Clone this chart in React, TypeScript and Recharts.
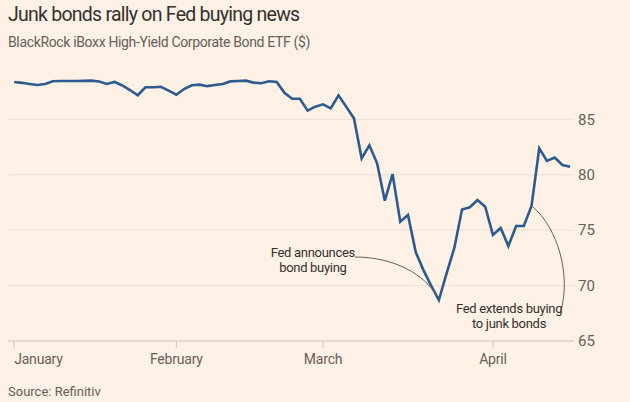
import React from "react";
import {
  LineChart,
  Line,
  XAxis,
  YAxis,
  CartesianGrid,
  ReferenceDot,
} from "recharts";

// HYG daily close, one value per trading day, 2 Jan - 16 Apr 2020
const prices = [
  88.38, 88.3, 88.2, 88.1, 88.2, 88.44, 88.47, 88.47, 88.47, 88.48,
  88.5, 88.42, 88.2, 88.38, 88.06, 87.65, 87.18, 87.9, 87.9, 87.95,
  87.6, 87.23, 87.74, 88.08, 88.14, 88.0, 88.1, 88.2, 88.43, 88.47,
  88.5, 88.32, 88.26, 88.44, 88.38, 87.4, 86.87, 86.87, 85.79, 86.15,
  86.36, 86.0, 87.17, 86.15, 85.1, 81.49, 82.66, 81.04, 77.66, 80.07,
  75.77, 76.37, 73.03, 71.4, 70.0, 68.7, 71.1, 73.4, 76.87, 77.07,
  77.73, 77.12, 74.57, 75.2, 73.57, 75.38, 75.38, 77.18, 82.39, 81.25,
  81.56, 80.88, 80.73,
];

// first trading day of each month (index into prices)
const monthTicks = [0, 21, 40, 62];
const monthLabels = ["January", "February", "March", "April"];
const yTicks = [65, 70, 75, 80, 85];

const bondBuyingDay = 55; // 23 Mar
const junkBuyingDay = 67; // 9 Apr

const rows = prices.map((v, i) => ({ i, v }));

const BG = "#fff1e5";
const TEXT = "#33302e";
const MUTED = "#66605c";
const FONT = "Roboto, 'Noto Sans', sans-serif";

document.body.style.margin = "0";
document.body.style.background = BG;

const MonthTick = (props: any) => {
  const { x, y, payload } = props;
  const idx = monthTicks.indexOf(payload.value);
  return (
    <text
      x={x}
      y={y + 4}
      dy="0.71em"
      textAnchor={idx === 0 ? "start" : "middle"}
      fill={MUTED}
      fontSize={14}
      letterSpacing={-0.2}
      fontFamily={FONT}
    >
      {monthLabels[idx]}
    </text>
  );
};

const PriceTick = (props: any) => {
  const { x, y, payload } = props;
  return (
    <text x={x} y={y} dy="0.35em" textAnchor="start" fill={MUTED} fontSize={15} fontFamily={FONT}>
      {payload.value}
    </text>
  );
};

const noteText = {
  textAnchor: "middle" as const,
  fill: TEXT,
  fontSize: 13,
  letterSpacing: -0.3,
  fontFamily: FONT,
};

const BondNote = (props: any) => {
  const { cx, cy } = props;
  return (
    <g>
      <path
        d={`M${cx - 84},${cy - 43} C${cx - 44},${cy - 43} ${cx - 14},${cy - 25} ${cx - 2},${cy - 4}`}
        fill="none"
        stroke={MUTED}
        strokeWidth={1}
      />
      <text {...noteText} x={cx - 126} y={cy - 43}>Fed announces</text>
      <text {...noteText} x={cx - 126} y={cy - 28}>bond buying</text>
    </g>
  );
};

const JunkNote = (props: any) => {
  const { cx, cy } = props;
  return (
    <g>
      <path
        d={`M${cx + 1.5},${cy + 1} C${cx + 26},${cy + 22} ${cx + 40},${cy + 69} ${cx + 29},${cy + 106}`}
        fill="none"
        stroke={MUTED}
        strokeWidth={1}
      />
      <text {...noteText} x={cx - 22.5} y={cy + 107}>Fed extends buying</text>
      <text {...noteText} x={cx - 22.5} y={cy + 122}>to junk bonds</text>
    </g>
  );
};

export default function App() {
  return (
    <div style={{ position: "relative", width: 630, height: 402, background: BG, fontFamily: FONT }}>
      <div style={{ position: "absolute", left: 8, top: 3, fontSize: 19.5, letterSpacing: -0.75, color: TEXT }}>
        Junk bonds rally on Fed buying news
      </div>
      <div style={{ position: "absolute", left: 8, top: 34, fontSize: 14, letterSpacing: -0.35, color: MUTED }}>
        BlackRock iBoxx High-Yield Corporate Bond ETF ($)
      </div>
      <LineChart
        width={630}
        height={402}
        data={rows}
        margin={{ top: 64, right: 0, bottom: 31, left: 8 }}
      >
        <CartesianGrid vertical={false} stroke="#ecdfd3" horizontalValues={yTicks} />
        <XAxis
          dataKey="i"
          type="number"
          domain={[-0.8, 72.5]}
          ticks={monthTicks}
          allowDataOverflow
          height={30}
          stroke="#d3c6ba"
          tickSize={7}
          tick={<MonthTick />}
        />
        <YAxis
          orientation="right"
          domain={[65, 90]}
          ticks={yTicks}
          width={56}
          axisLine={false}
          tickLine={false}
          tickSize={0}
          tickMargin={4}
          tick={<PriceTick />}
        />
        <Line
          type="linear"
          dataKey="v"
          stroke="#2b5b8f"
          strokeWidth={2.6}
          dot={false}
          isAnimationActive={false}
        />
        <ReferenceDot
          x={bondBuyingDay}
          y={prices[bondBuyingDay]}
          r={0}
          shape={(p: any) => <BondNote {...p} />}
        />
        <ReferenceDot
          x={junkBuyingDay}
          y={prices[junkBuyingDay]}
          r={0}
          shape={(p: any) => <JunkNote {...p} />}
        />
      </LineChart>
      <div style={{ position: "absolute", left: 8, top: 384, fontSize: 13, color: MUTED }}>
        Source: Refinitiv
      </div>
    </div>
  );
}
